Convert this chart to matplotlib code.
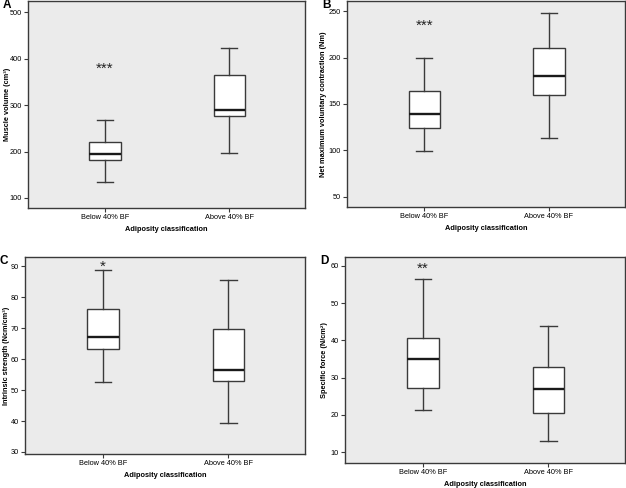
import matplotlib
matplotlib.use("Agg")
import matplotlib.pyplot as plt

plt.rcParams['font.family'] = ['Liberation Sans', 'DejaVu Sans']

groups = ["Below 40% BF", "Above 40% BF"]

# box stats: (whislo, q1, med, q3, whishi)
volume = [(134, 181, 195, 221, 268), (197, 276, 289, 365, 423)]
mvc = [(99.6, 124, 139.4, 164, 199.5), (113.6, 159.3, 180.4, 210.6, 247.5)]
strength = [(52.6, 63.2, 67.2, 76.1, 88.8), (39.5, 52.8, 56.4, 69.7, 85.5)]
spec_force = [(21.2, 27.3, 35.1, 40.7, 56.4), (13.0, 20.6, 26.9, 32.9, 43.9)]

panels = [
    ("A", volume, "Muscle volume (cm³)", (78.4, 524), [100, 200, 300, 400, 500], "***", 378,
     [28, 1, 305, 208], -0.062),
    ("B", mvc, "Net maximum voluntary contraction (Nm)", (39.2, 260.8), [50, 100, 150, 200, 250], "***", 234,
     [347, 1, 625, 207], -0.073),
    ("C", strength, "Intrinsic strength (Ncm/cm³)", (29.35, 93.0), [30, 40, 50, 60, 70, 80, 90], "*", 90.0,
     [25, 257, 305, 454], -0.054),
    ("D", spec_force, "Specific force (N/cm²)", (7.1, 62.4), [10, 20, 30, 40, 50, 60], "**", 59.3,
     [345, 257, 625, 463], -0.062),
]

W, H = 626, 488
fig = plt.figure(figsize=(W / 100, H / 100), dpi=100)
line_col = "#3a3a3a"
fs = 5.3

for letter, stats, ylab, ylim, yticks, stars, star_y, box, ylab_x in panels:
    x0, y0, x1, y1 = box
    ax = fig.add_axes([x0 / W, 1 - y1 / H, (x1 - x0) / W, (y1 - y0) / H])
    ax.set_facecolor("#ebebeb")

    bxstats = []
    for name, (lo, q1, med, q3, hi) in zip(groups, stats):
        bxstats.append(dict(label=name, whislo=lo, q1=q1, med=med, q3=q3, whishi=hi, fliers=[]))

    ax.bxp(bxstats, positions=[1, 2], widths=0.25, patch_artist=True, showfliers=False,
           boxprops=dict(facecolor="white", edgecolor=line_col, linewidth=1.0),
           medianprops=dict(color="#1a1a1a", linewidth=1.7),
           whiskerprops=dict(color=line_col, linewidth=1.0),
           capprops=dict(color=line_col, linewidth=1.0),
           capwidths=0.13)

    ax.set_xlim(0.38, 2.61)
    ax.set_ylim(*ylim)
    ax.set_yticks(yticks)
    ax.set_xticks([1, 2])
    ax.set_xticklabels(groups)
    ax.tick_params(labelsize=fs, length=3, width=0.8, color=line_col, pad=1.5)
    for s in ax.spines.values():
        s.set_color(line_col)
        s.set_linewidth(1.0)

    ax.set_ylabel(ylab, fontsize=fs, fontweight="bold")
    ax.yaxis.set_label_coords(ylab_x, 0.5)
    ax.set_xlabel("Adiposity classification", fontsize=fs, fontweight="bold", labelpad=3.5)

    ax.text(1, star_y, stars, ha="center", va="center", fontsize=11, color="#222222")
    fig.text((x0 - 25) / W, 1 - (y0 + 4) / H, letter, fontsize=8.5, fontweight="bold",
             ha="left", va="center")

fig.savefig("out.png", dpi=100)
